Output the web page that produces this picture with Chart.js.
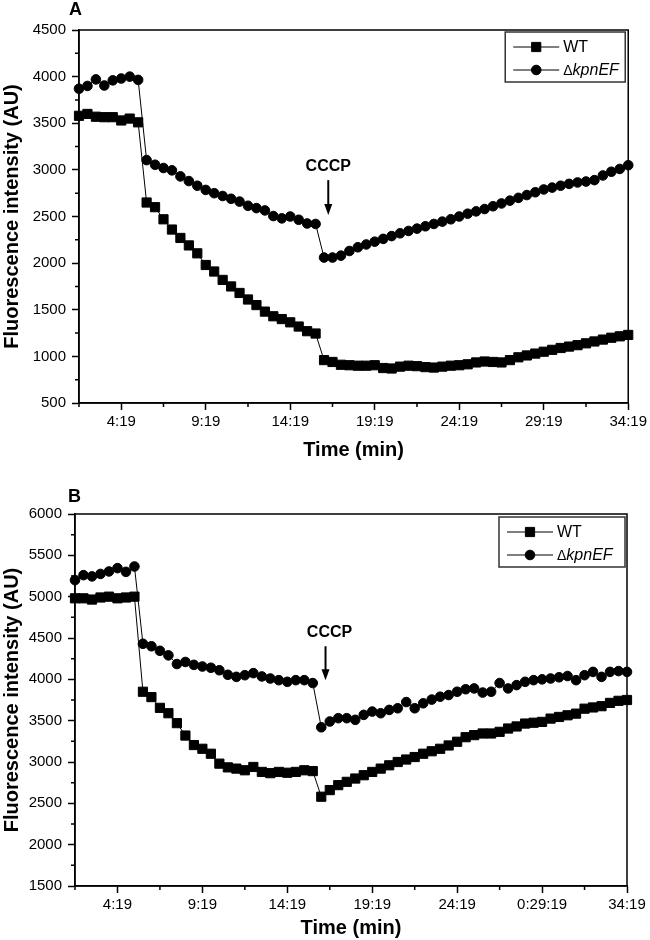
<!DOCTYPE html>
<html>
<head>
<meta charset="utf-8">
<script src="https://cdn.jsdelivr.net/npm/chart.js@4"></script>
<style>
  body { margin: 0; background: #fff; }
  canvas { display: block; }
</style>
</head>
<body>
<canvas id="chartA" width="650" height="470"></canvas>
<canvas id="chartB" width="650" height="470"></canvas>
<script>
// sampling times (every 30 s)
var times = ['1:49','2:19','2:49','3:19','3:49','4:19','4:49','5:19','5:49','6:19',
  '6:49','7:19','7:49','8:19','8:49','9:19','9:49','10:19','10:49','11:19',
  '11:49','12:19','12:49','13:19','13:49','14:19','14:49','15:19','15:49','16:19',
  '16:49','17:19','17:49','18:19','18:49','19:19','19:49','20:19','20:49','21:19',
  '21:49','22:19','22:49','23:19','23:49','24:19','24:49','25:19','25:49','26:19',
  '26:49','27:19','27:49','28:19','28:49','29:19','29:49','30:19','30:49','31:19',
  '31:49','32:19','32:49','33:19','33:49','34:19'];

var tickLabelsA = ['4:19', '9:19', '14:19', '19:19', '24:19', '29:19', '34:19'];
var tickLabelsB = ['4:19', '9:19', '14:19', '19:19', '24:19', '0:29:19', '34:19'];

// panel A
var wtA = [3580, 3600, 3570, 3565, 3565, 3530, 3550, 3510,
  2650, 2600, 2470, 2360, 2270, 2190, 2105, 1980, 1910, 1820, 1750, 1680, 1610,
  1550, 1480, 1430, 1400, 1365, 1320, 1270, 1245,
  960, 940, 910, 905, 900, 900, 905, 875, 870, 890, 900, 895, 885, 880, 890, 900,
  905, 915, 935, 945, 940, 935, 960, 990, 1010, 1030, 1050, 1070, 1090, 1105,
  1120, 1140, 1160, 1180, 1200, 1215, 1230];
var kpnA = [3870, 3900, 3970, 3905, 3960, 3980, 4000, 3965,
  3105, 3055, 3020, 2995, 2930, 2880, 2830, 2785, 2750, 2720, 2690, 2660, 2615,
  2590, 2565, 2505, 2480, 2500, 2465, 2425, 2420,
  2060, 2060, 2080, 2130, 2170, 2200, 2230, 2260, 2290, 2320, 2345, 2370, 2395,
  2420, 2445, 2470, 2500, 2530, 2555, 2580, 2610, 2640, 2670, 2700, 2730, 2760,
  2790, 2810, 2830, 2850, 2865, 2875, 2890, 2940, 2980, 3010, 3050];

// panel B
var wtB = [4980, 4980, 4965, 4990, 5000, 4980, 4990, 5000,
  3850, 3785, 3655, 3590, 3470, 3320, 3205, 3160, 3100, 2980, 2935, 2920, 2900,
  2940, 2880, 2865, 2880, 2870, 2880, 2900, 2890,
  2580, 2660, 2720, 2760, 2800, 2840, 2880, 2920, 2960, 3000, 3030, 3060, 3100,
  3130, 3160, 3200, 3245, 3300, 3325, 3345, 3345, 3365, 3405, 3430, 3465, 3475,
  3485, 3525, 3545, 3565, 3585, 3645, 3660, 3675, 3715, 3740, 3750];
var kpnB = [5200, 5260, 5245, 5275, 5305, 5345, 5300, 5365,
  4430, 4400, 4345, 4290, 4185, 4210, 4175, 4155, 4140, 4110, 4055, 4030, 4050,
  4075, 4035, 4010, 3990, 3970, 3990, 3990, 3955,
  3420, 3490, 3530, 3530, 3510, 3570, 3610, 3590, 3630, 3650, 3725, 3650, 3710,
  3755, 3790, 3810, 3850, 3880, 3890, 3840, 3850, 3955, 3890, 3930, 3970, 3990,
  4000, 4010, 4025, 4040, 3990, 4050, 4090, 4030, 4090, 4100, 4090];

Chart.defaults.font.family = '"Liberation Sans", Arial, sans-serif';
Chart.defaults.color = '#000';

// box frame, minor ticks, panel letter, CCCP arrow and boxed legend
var extras = {
  id: 'extras',
  afterDraw: function(chart, args, opts) {
    var ctx = chart.ctx, a = chart.chartArea;
    var xs = chart.scales.x, ys = chart.scales.y;
    ctx.save();
    ctx.strokeStyle = '#000';
    ctx.lineWidth = 1.5;
    ctx.strokeRect(a.left, a.top, a.right - a.left, a.bottom - a.top);

    ctx.beginPath();
    xs.ticks.forEach(function(t, i) {
      if (i % 10 === 0) {
        var px = xs.getPixelForTick(i);
        ctx.moveTo(px, a.bottom); ctx.lineTo(px, a.bottom + 4);
      }
    });
    ys.ticks.forEach(function(t) {
      if (t.value % 500 !== 0) {
        var py = ys.getPixelForValue(t.value);
        ctx.moveTo(a.left - 4, py); ctx.lineTo(a.left, py);
      }
    });
    ctx.stroke();

    ctx.fillStyle = '#000';
    ctx.font = 'bold 18px "Liberation Sans", Arial, sans-serif';
    ctx.textAlign = 'left';
    ctx.textBaseline = 'alphabetic';
    ctx.fillText(opts.letter, opts.letterX, opts.letterY);

    // CCCP annotation
    var c = opts.cccp;
    var ax = xs.getPixelForValue(c.at);
    ctx.font = 'bold 16px "Liberation Sans", Arial, sans-serif';
    ctx.textAlign = 'center';
    ctx.textBaseline = 'middle';
    ctx.fillText('CCCP', ax + c.dx, ys.getPixelForValue(c.text));
    var y0 = ys.getPixelForValue(c.from), y1 = ys.getPixelForValue(c.to);
    ctx.lineWidth = 2;
    ctx.beginPath();
    ctx.moveTo(ax, y0); ctx.lineTo(ax, y1 - 8);
    ctx.stroke();
    ctx.beginPath();
    ctx.moveTo(ax - 4, y1 - 11); ctx.lineTo(ax + 4, y1 - 11); ctx.lineTo(ax, y1);
    ctx.closePath();
    ctx.fill();

    // legend
    var L = opts.legend;
    var bx = a.right - L.right - L.width, by = a.top + L.top;
    ctx.strokeStyle = '#333';
    ctx.lineWidth = 1.5;
    ctx.strokeRect(bx, by, L.width, 50);
    chart.data.datasets.forEach(function(ds, i) {
      var ry = by + 15 + i * 23;
      ctx.strokeStyle = '#000';
      ctx.lineWidth = 1;
      ctx.beginPath();
      ctx.moveTo(bx + 8, ry); ctx.lineTo(bx + 54, ry);
      ctx.stroke();
      Chart.helpers.drawPoint(ctx, {
        pointStyle: ds.pointStyle, radius: ds.pointRadius, borderWidth: 1
      }, bx + 31, ry);
      ctx.fillStyle = '#000';
      ctx.textAlign = 'left';
      ctx.textBaseline = 'middle';
      var tx = bx + 58;
      if (i === 0) {
        ctx.font = '16px "Liberation Sans", Arial, sans-serif';
        ctx.fillText('WT', tx, ry + 1);
      } else {
        ctx.font = '14px "Liberation Sans", Arial, sans-serif';
        ctx.fillText('\u0394', tx, ry + 1);
        var w = ctx.measureText('\u0394').width;
        ctx.font = 'italic 16px "Liberation Sans", Arial, sans-serif';
        ctx.fillText('kpnEF', tx + w, ry + 1);
      }
    });
    ctx.restore();
  }
};

function makeChart(id, wt, kpn, tickLabels, yMin, yMax, p) {
  return new Chart(document.getElementById(id), {
    type: 'line',
    data: {
      labels: times,
      datasets: [{
        label: 'WT',
        data: wt,
        borderColor: '#000',
        borderWidth: 1,
        backgroundColor: '#000',
        pointStyle: 'rect',
        pointRadius: 6.5,
        pointBackgroundColor: '#000',
        pointBorderColor: '#000',
        tension: 0,
        clip: false
      }, {
        label: '\u0394kpnEF',
        data: kpn,
        borderColor: '#000',
        borderWidth: 1,
        backgroundColor: '#000',
        pointStyle: 'circle',
        pointRadius: 4.8,
        pointBackgroundColor: '#000',
        pointBorderColor: '#000',
        tension: 0,
        clip: false
      }]
    },
    options: {
      responsive: false,
      animation: false,
      layout: { padding: { left: 0, right: p.right, top: p.top, bottom: 0 } },
      plugins: {
        legend: { display: false },
        tooltip: { enabled: false },
        extras: p.extras
      },
      scales: {
        x: {
          type: 'category',
          offset: false,
          afterFit: function(s) { s.height = p.xHeight; },
          border: { display: true, color: '#000', width: 1.5 },
          grid: {
            drawOnChartArea: false,
            tickLength: 7,
            tickWidth: 1.5,
            tickColor: function(c) { return c.index % 10 === 5 ? '#000' : 'rgba(0,0,0,0)'; }
          },
          ticks: {
            autoSkip: false,
            maxRotation: 0,
            padding: 3,
            font: { size: 15 },
            callback: function(v, i) { return i % 10 === 5 ? tickLabels[(i - 5) / 10] : ''; }
          },
          title: {
            display: true,
            text: 'Time (min)',
            font: { size: 20, weight: 'bold' },
            padding: { top: 0, bottom: p.xTitlePad }
          }
        },
        y: {
          min: yMin,
          max: yMax,
          afterFit: function(s) { s.width = p.left; },
          border: { display: true, color: '#000', width: 1.5 },
          grid: {
            drawOnChartArea: false,
            tickLength: 7,
            tickWidth: 1.5,
            tickColor: function(c) { return c.tick && c.tick.value % 500 === 0 ? '#000' : 'rgba(0,0,0,0)'; }
          },
          ticks: {
            stepSize: 250,
            autoSkip: false,
            padding: 6,
            font: { size: 15 },
            callback: function(v) { return v % 500 === 0 ? String(v) : ''; }
          },
          title: {
            display: true,
            text: 'Fluorescence intensity (AU)',
            font: { size: 20, weight: 'bold' },
            padding: { top: 0, bottom: 0 }
          }
        }
      }
    },
    plugins: [extras]
  });
}

makeChart('chartA', wtA, kpnA, tickLabelsA, 500, 4500, {
  left: 79, right: 19, top: 30, xHeight: 67, xTitlePad: 8,
  extras: {
    letter: 'A', letterX: 69, letterY: 15,
    cccp: { at: 29.5, dx: 0, text: 3040, from: 2890, to: 2515 },
    legend: { right: 3, top: 2, width: 120 }
  }
});

makeChart('chartB', wtB, kpnB, tickLabelsB, 1500, 6000, {
  left: 75, right: 23, top: 44, xHeight: 54, xTitlePad: 0,
  extras: {
    letter: 'B', letterX: 68, letterY: 32,
    cccp: { at: 29.5, dx: 4, text: 4570, from: 4400, to: 3990 },
    legend: { right: 2, top: 3, width: 126 }
  }
});
</script>
</body>
</html>
